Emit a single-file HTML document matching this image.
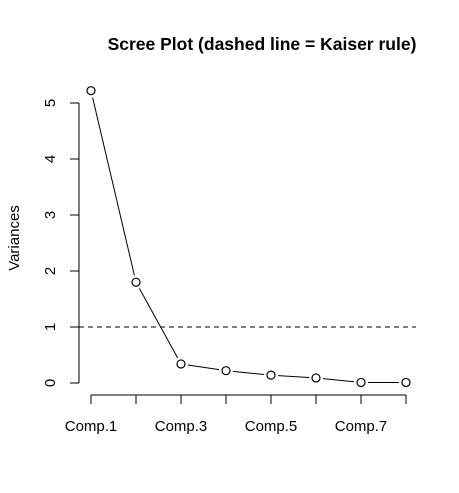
<!DOCTYPE html>
<html><head><meta charset="utf-8"><style>body{margin:0;background:#fff}svg{display:block;font-family:"Liberation Sans",Arial,sans-serif}</style></head>
<body>
<svg width="459" height="493">
<text x="262" y="50" text-anchor="middle" font-size="17.5" font-weight="bold">Scree Plot (dashed line = Kaiser rule)</text>
<text transform="translate(19,238) rotate(-90)" text-anchor="middle" font-size="15">Variances</text>
<g id="ax" stroke="#000" fill="none"></g>
<g id="marks"></g>
</svg>
<script>
const categories=["Comp.1","Comp.2","Comp.3","Comp.4","Comp.5","Comp.6","Comp.7","Comp.8"];
const variances=[5.22,1.80,0.34,0.22,0.14,0.09,0.01,0.01];
const yTicks=[0,1,2,3,4,5];
const kaiser=1;
const NS="http://www.w3.org/2000/svg";
const sx=i=>91+i*45;
const sy=v=>383-v*56;
function mk(t,a,p){const e=document.createElementNS(NS,t);for(const k in a)e.setAttribute(k,a[k]);p.appendChild(e);return e;}
const svg=document.querySelector('svg'),ax=document.getElementById('ax'),mg=document.getElementById('marks');
let l=mk('line',{x1:79,x2:79,y1:sy(yTicks[yTicks.length-1]),y2:sy(0)},ax);


yTicks.forEach(v=>{
 const t=mk('line',{x1:70,x2:79,y1:sy(v),y2:sy(v)},ax);
 
 
 const tx=mk('text',{transform:`translate(55,${sy(v)}) rotate(-90)`,'text-anchor':'middle','font-size':15},svg);
 tx.textContent=v;
 
 
});
l=mk('line',{x1:sx(0),x2:sx(categories.length-1),y1:395,y2:395},ax);


categories.forEach((c,i)=>{
 const t=mk('line',{x1:sx(i),x2:sx(i),y1:395,y2:404},ax);
 
 
 if(i%2===0){const tx=mk('text',{x:sx(i),y:431,'text-anchor':'middle','font-size':15},svg);tx.textContent=c;
 
 }
});
l=mk('line',{x1:70,x2:416,y1:sy(kaiser),y2:sy(kaiser),stroke:'#000','stroke-dasharray':'5,4'},mg);


for(let i=0;i<variances.length-1;i++){
 const x1=sx(i),y1=sy(variances[i]),x2=sx(i+1),y2=sy(variances[i+1]);
 const d=Math.hypot(x2-x1,y2-y1),ux=(x2-x1)/d,uy=(y2-y1)/d,g=7;
 if(d>2*g){const s=mk('line',{x1:x1+ux*g,y1:y1+uy*g,x2:x2-ux*g,y2:y2-uy*g,stroke:'#000'},mg);
 
 }
}
variances.forEach((v,i)=>{
 const c=mk('circle',{cx:sx(i),cy:sy(v),r:4,fill:'#fff',stroke:'#000','stroke-width':1.2},mg);
 
 
});
</script>
</body></html>
